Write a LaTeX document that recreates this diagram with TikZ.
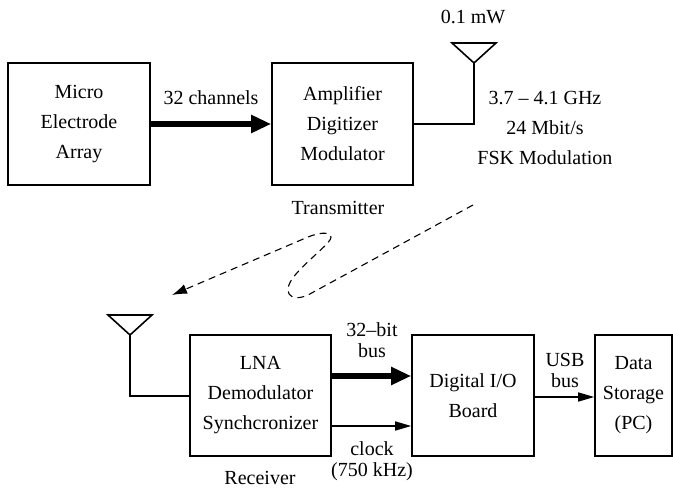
\documentclass[tikz,border=0pt]{standalone}
\usepackage{fontspec}
\setmainfont{Liberation Serif}
\usetikzlibrary{arrows.meta}
\tikzset{
  blk/.style={draw, line width=1.6pt, inner sep=0pt, align=center, font=\fontsize{20}{30}\selectfont},
  lbl/.style={inner sep=0pt, align=center, font=\fontsize{20}{30}\selectfont},
  lbltight/.style={inner sep=0pt, align=center, font=\fontsize{20}{21}\selectfont},
  wire/.style={line width=1.6pt},
  thickarrow/.style={line width=5.5pt, -{Triangle[length=20pt,width=17pt]}},
  thinarrow/.style={line width=1.6pt, -{Triangle[length=16pt,width=9pt]}},
  wave/.style={line width=1.1pt, dash pattern=on 7pt off 5pt, -{Latex[length=15pt,width=10pt]}},
  ant/.style={line width=1.6pt, line join=miter}
}
\begin{document}
\begin{tikzpicture}[x=1pt,y=-1pt]
\useasboundingbox (0,0) rectangle (673,489);
% transmitter
\node[blk, minimum width=142pt, minimum height=122pt] (mea) at (79,124) {Micro\\Electrode\\Array};
\node[blk, minimum width=141pt, minimum height=122pt] (amp) at (342.5,124) {Amplifier\\Digitizer\\Modulator};
\draw[thickarrow] (mea.east) -- (amp.west);
\node[lbl] (ch) at (211,98) {32 channels};
\coordinate (ta) at (474,63);
\draw[ant] (452,43) -- (496,43) -- (ta) -- cycle;
\coordinate (tb) at (474,124);
\draw[wire] (amp.east) -- (tb) -- (ta);
\node[lbl] (pw) at (473,17) {0.1 mW};
\node[lbl] (ghz) at (545,128) {3.7 – 4.1 GHz\\24 Mbit/s\\FSK Modulation};
\node[lbl] (tx) at (338,208) {Transmitter};
% wireless link
\coordinate (w0) at (473,205);
\coordinate (w1) at (172,295);
\draw[wave] (w0) -- (308,295) .. controls (290,303) and (280,292) .. (296,274)
  .. controls (310,258) and (332,242) .. (331,237)
  .. controls (329,231) and (318,233) .. (308,237) -- (w1);
% receiver
\node[blk, minimum width=141pt, minimum height=121pt] (lna) at (260.5,395.5) {LNA\\Demodulator\\Synchcronizer};
\node[blk, minimum width=122pt, minimum height=121pt] (dio) at (473,395.5) {Digital I/O\\Board};
\node[blk, minimum width=77pt, minimum height=121pt] (pc) at (633.5,395.5) {Data\\Storage\\(PC)};
\coordinate (ra) at (130,335);
\draw[ant] (108,315) -- (152,315) -- (ra) -- cycle;
\coordinate (rb) at (130,396);
\draw[wire] (ra) -- (rb) -- (lna.west |- rb);
\draw[thickarrow] (lna.east |- 0,376) -- (dio.west |- 0,376);
\draw[thinarrow] (lna.east |- 0,426) -- (dio.west |- 0,426);
\draw[thinarrow] (dio.east |- 0,397) -- (pc.west |- 0,397);
\node[lbltight] (bus) at (372,340) {32–bit\\bus};
\node[lbltight] (clk) at (372,461) {clock\\(750 kHz)};
\node[lbltight] (usb) at (565,370) {USB\\bus};
\node[lbl] (rx) at (260,478) {Receiver};
\end{tikzpicture}
\end{document}
